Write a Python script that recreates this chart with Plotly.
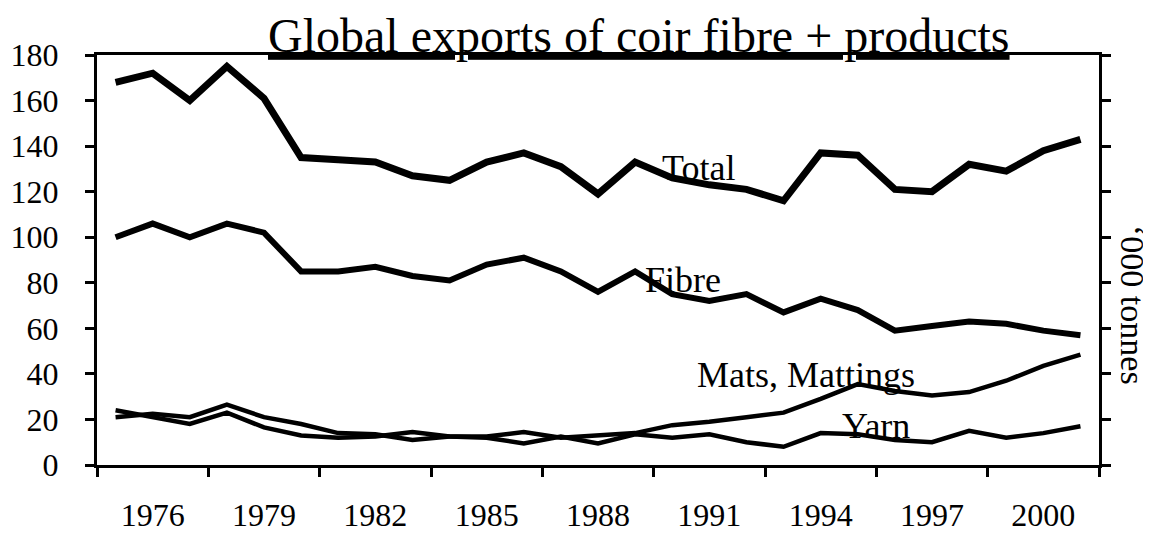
import plotly.graph_objects as go

years = list(range(1975, 2002))
total = [168, 172, 160, 175, 161, 135, 134, 133, 127, 125, 133, 137, 131, 119,
         133, 126, 123, 121, 116, 137, 136, 121, 120, 132, 129, 138, 143]
fibre = [100, 106, 100, 106, 102, 85, 85, 87, 83, 81, 88, 91, 85, 76,
         85, 75, 72, 75, 67, 73, 68, 59, 61, 63, 62, 59, 57]
mats = [21, 22.5, 21, 26.5, 21, 18, 14, 13.5, 11, 12.5, 12.5, 14.5, 12, 13,
        14, 17.5, 19, 21, 23, 29, 35.5, 32.5, 30.5, 32, 37, 43.5, 48.5]
yarn = [24, 21, 18, 23, 16.5, 13, 12, 12.5, 14.5, 12.5, 12, 9.5, 12.5, 9.5,
        13.5, 12, 13.5, 10, 8, 14, 13.5, 11, 10, 15, 12, 14, 17]
tick_years = [1976, 1979, 1982, 1985, 1988, 1991, 1994, 1997, 2000]
y_ticks = [0, 20, 40, 60, 80, 100, 120, 140, 160, 180]

FONT = "Liberation Serif"

fig = go.Figure()
for name, vals, w in [("Total", total, 7), ("Fibre", fibre, 6),
                      ("Mats, Mattings", mats, 4.5), ("Yarn", yarn, 4.5)]:
    fig.add_trace(go.Scatter(x=years, y=vals, mode="lines", name=name,
                             line=dict(color="black", width=w),
                             showlegend=False))

ann_font = dict(family=FONT, size=36, color="black")
fig.add_annotation(x=1990.7, y=130.4, text="Total", showarrow=False, font=ann_font)
fig.add_annotation(x=1990.3, y=81.2, text="Fibre", showarrow=False, font=ann_font)
fig.add_annotation(x=1993.6, y=39.5, text="Mats, Mattings", showarrow=False, font=ann_font)
fig.add_annotation(x=1995.5, y=17.1, text="Yarn", showarrow=False, font=ann_font)

fig.add_annotation(xref="paper", yref="paper", x=0.541, xanchor="center",
                   y=1, yanchor="bottom", yshift=-9,
                   text="Global exports of coir fibre + products",
                   showarrow=False,
                   font=dict(family=FONT, size=48, color="black", lineposition="under"))
fig.add_annotation(xref="paper", yref="paper", x=1.034, xanchor="center",
                   y=0.39, yanchor="middle", textangle=90,
                   text="\u2018000 tonnes", showarrow=False,
                   font=dict(family=FONT, size=34, color="black"))

fig.update_layout(
    width=1143, height=527,
    margin=dict(l=89, r=52, t=47, b=70),
    paper_bgcolor="white", plot_bgcolor="white",
    font=dict(family=FONT, color="black"),
)
fig.update_xaxes(
    range=[1974.5, 2001.5], tickmode="array", tickvals=tick_years,
    ticktext=[str(t) for t in tick_years], ticks="",
    tickfont=dict(family=FONT, size=32, color="black"),
    ticklabelstandoff=20, automargin=False,
    showline=True, linecolor="black", linewidth=3, mirror=True,
    showgrid=False, zeroline=False,
    minor=dict(tickmode="linear", tick0=1974.5, dtick=3, ticks="outside",
               ticklen=9, tickwidth=3, tickcolor="black", showgrid=False),
)
fig.update_yaxes(
    range=[0, 180], tickmode="array", tickvals=y_ticks, ticks="outside",
    ticklen=9, tickwidth=3, tickcolor="black",
    tickfont=dict(family=FONT, size=32, color="black"),
    ticklabelstandoff=20, automargin=False,
    showline=True, linecolor="black", linewidth=3, mirror="ticks",
    showgrid=False, zeroline=False,
)

fig.write_html("out.html")
